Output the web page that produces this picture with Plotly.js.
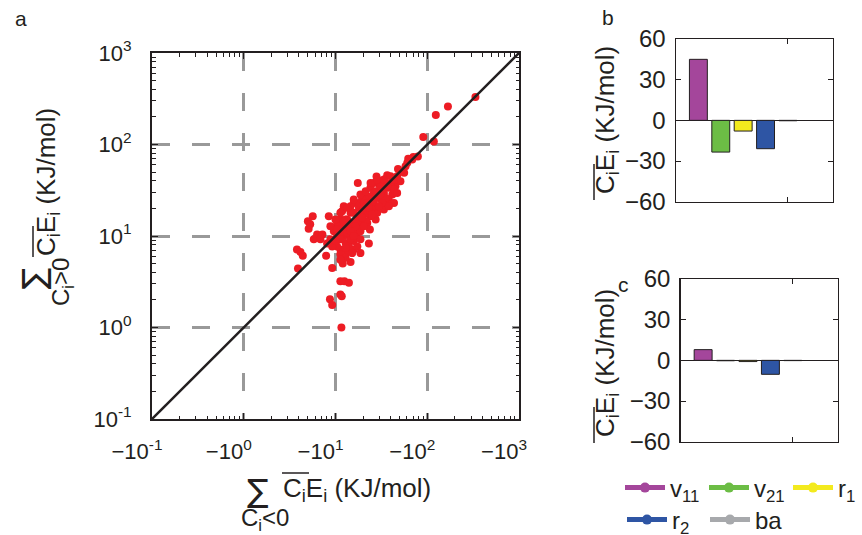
<!DOCTYPE html>
<html><head><meta charset="utf-8">
<script src="https://cdn.plot.ly/plotly-3.0.1.min.js"></script>
<style>html,body{margin:0;padding:0;background:#fff}#chart{width:862px;height:535px}</style>
</head><body><div id="chart"></div>
<script>
// ---- Panel a: sum over C_i<0 (negative, kJ/mol) vs sum over C_i>0 ----
const negSum = [-335,-168,-124,-90.5,-118,-79,-62,-70.5,-48,-56,-36.6,-28,-17.5,-43,-45,-38,-30.5,-24,-26.2,-33.7,
  -41.6,-38,-31,-22.2,-19.5,-15.8,-14.6,-12.3,-11.8,-14.6,-18,-22.2,-26.2,-31,-36.6,-28.5,-24,-20.4,-17.2,-13.4,
  -11.3,-10.4,-12.3,-15.8,-18.7,-22.2,-23.7,-17.2,-14,-11.3,-9.6,-8.8,-10.9,-12.9,-15.8,-23.1,-11.3,-13.4,-15.8,-11.3,
  -7.9,-12,-14.6,-9.2,-11.3,-12.5,-14,-11.3,-11.7,-8.7,-9.2,-11.6,-5.65,-5.0,-5.1,-5.8,-6.3,-7.2,-8.45,-8.8,
  -8.1,-3.8,-4.15,-4.4,-3.9,-5.3,-6.85,-10.4,-11.8,-13.4,-15.2,-17.3,-19.5,-22.2,-25.1,-28.5,-32.3,-26.2,-29.7,-35.2,
  -39.8,-47,-51,-58,-43.4,-47,-15.8,-18,-20.4,-24.1,-27.4,-18.7,-17.3,-14,-12.3,-10.9,-10,-18.7,-12.9,-27.4,
  -35.2,-43.4,-33.7,-21.3,-18,-14.6,-13.4,-12.9,-16.5,-18.7,-32.3,-27.4,-22.2,-20.4,-14,-16.5,-12.9,-10.4,-11.3,-15.2,
  -18.7,-31,-11.3,-13.4,-15.8,-18.7,-21.3,-24.1,-28.5,-33.7,-39.8,-51.3,-60.6,-68.7,-43.4,-36.6,-31,-26.2,-23.1,-19.5,
  -16.5,-14.6,-12.3,-10.4,-11.3,-9.2,-10,-15.8,-20.4,-25.1,-29.7,-38.2];
const posSum = [330,261,210,121,108,74,70,73,54,49,46,44.6,38,41,35,33.6,35,33.6,29.6,29.6,
  28.4,25,25.5,27.2,25.5,23,21.1,21.1,18.7,17.9,20.3,21.1,21.1,21.1,23,17.9,16.4,17.2,15.1,15.1,
  15.1,13.4,12.8,12.8,13.4,13.9,11.8,10.8,10.4,10.8,11.3,9.2,9.2,8.4,8.8,8.3,7.1,6.8,7.1,6.3,
  6.1,5.0,5.2,4.46,3.2,3.2,3.08,2.3,2.2,2.03,1.76,1.0,16.4,14.5,12,9.2,10.4,10.4,16.4,12.8,
  8.3,7.1,6.7,6.1,4.4,13.4,9.2,10.0,11.3,12.3,13.9,16.5,18.7,17.9,25,27.2,32.2,38,39.7,38,
  38,45,39.7,58,32.2,29.6,17.9,23,23,18.7,15.1,9.2,7.7,7.7,10,12.8,15.1,6.5,5.8,21.2,
  26.1,23,19.5,14.5,11.8,9.2,10.8,15.1,14.5,17.2,23,30.9,23,20.3,13.4,11.3,7.4,7.7,5.5,6.5,
  11.3,35,17.9,20.3,25,28.4,30.8,38,41.4,41.4,45,51,63,68.4,41.4,35,28.4,24,20.3,15.8,
  12.8,11.3,14.5,11.8,9.2,7.7,8.8,10,12.8,17.2,21.2,21.2];
const diagX = [0.1, 1000];
const diagY = [0.1, 1000];
const logTickVals = [0.1, 1, 10, 100, 1000];
const yTickText = ['10<sup>-1</sup>','10<sup>0</sup>','10<sup>1</sup>','10<sup>2</sup>','10<sup>3</sup>'];
const xTickText = ['\u221210<sup>-1</sup>','\u221210<sup>0</sup>','\u221210<sup>1</sup>','\u221210<sup>2</sup>','\u221210<sup>3</sup>'];

// ---- Panels b, c: contributions per mode ----
const modes = ['v<sub>11</sub>','v<sub>21</sub>','r<sub>1</sub>','r<sub>2</sub>','ba'];
const modeColors = ['#a4469b','#6cbd45','#f3ea1e','#2e55a4','#a7a9ac'];
const barPos = [1, 2, 3, 4, 5];
const valuesB = [45, -23.4, -7.9, -20.9, -0.3];
const valuesC = [7.9, -0.3, -0.9, -10.3, -0.2];
const barTicks = [-60, -30, 0, 30, 60];

const W = 862, H = 535;
const px = v => v / W, py = v => 1 - v / H;
const FONT = 'Liberation Sans, Arial, sans-serif';
const SIGMA_FONT = 'DejaVu Sans, sans-serif';
const INK = '#231f20';

const traces = [
  {x: negSum.map(Math.abs), y: posSum, type:'scatter', mode:'markers',
   marker:{color:'#ed1c24', size:8}, xaxis:'x', yaxis:'y', showlegend:false, hoverinfo:'skip'},
  {x: diagX, y: diagY, type:'scatter', mode:'lines', line:{color:INK, width:2.5},
   xaxis:'x', yaxis:'y', showlegend:false, hoverinfo:'skip'},
  {x: barPos, y: valuesB, type:'bar', width:0.8, marker:{color:modeColors, line:{color:INK, width:1}},
   xaxis:'x2', yaxis:'y2', showlegend:false},
  {x: barPos, y: valuesC, type:'bar', width:0.8, marker:{color:modeColors, line:{color:INK, width:1}},
   xaxis:'x3', yaxis:'y3', showlegend:false}
];
modes.forEach((m, i) => traces.push({
  x:[null], y:[null], type:'scatter', mode:'lines+markers', name:m,
  line:{color:modeColors[i], width:5}, marker:{color:modeColors[i], size:10},
  xaxis:'x2', yaxis:'y2', legend: i < 3 ? 'legend' : 'legend2'
}));

const logAxis = (extra) => Object.assign({
  type:'log', range:[-1,3], tickmode:'array', tickvals:logTickVals,
  ticks:'inside', ticklen:6, tickwidth:1, tickcolor:INK,
  showline:true, linecolor:INK, linewidth:2, mirror:'ticks',
  showgrid:true, gridcolor:'#999999', gridwidth:3, griddash:'18px,22px',
  zeroline:false, tickfont:{family:FONT, size:22, color:INK},
  minor:{ticks:'inside', ticklen:3.5, tickcolor:INK, dtick:'D1', showgrid:false}
}, extra);

const barY = (dom) => ({
  domain:dom, range:[-60,60], tickmode:'array', tickvals:barTicks,
  ticks:'inside', ticklen:5, tickcolor:INK, showline:true, linecolor:INK, linewidth:1.5, mirror:'ticks',
  showgrid:false, zeroline:true, zerolinecolor:INK, zerolinewidth:1.2,
  tickfont:{family:FONT, size:24, color:INK}, ticklabelstandoff:4
});
const barX = (dom, anchor) => ({
  domain:dom, anchor:anchor, range:[0,7], tickmode:'array', tickvals:[5], showticklabels:false,
  ticks:'inside', ticklen:5, tickcolor:INK, showline:true, linecolor:INK, linewidth:1.5, mirror:'ticks',
  showgrid:false, zeroline:false
});

const ann = (text, x, y, opts) => Object.assign({text, x:px(x), y:py(y), xref:'paper', yref:'paper',
  xanchor:'center', yanchor:'middle',
  showarrow:false, font:{family:FONT, size:26, color:INK}}, opts || {});
const oline = (x0, y0, x1, y1) => ({type:'line', xref:'paper', yref:'paper',
  x0:px(x0), y0:py(y0), x1:px(x1), y1:py(y1), line:{color:INK, width:1.5}});
const sigmaFont = {family:SIGMA_FONT, size:32, color:INK};
const smallFont = {family:FONT, size:24, color:INK};
const labelFont = {family:FONT, size:21, color:INK};

const yt = 'C<sub>i</sub>E<sub>i</sub> (KJ/mol)';
const legendBase = {orientation:'h', xanchor:'left', yanchor:'middle',
  font:{family:FONT, size:24, color:INK}, itemwidth:40, entrywidthmode:'pixels',
  bgcolor:'rgba(0,0,0,0)', borderwidth:0};
const layout = {
  width:W, height:H, margin:{l:0, r:0, t:0, b:0, autoexpand:false},
  paper_bgcolor:'#fff', plot_bgcolor:'#fff',
  font:{family:FONT, color:INK},
  xaxis: logAxis({domain:[px(152), px(519)], anchor:'y', ticktext:xTickText, ticklabelshift:-15, ticklabelstandoff:12}),
  yaxis: logAxis({domain:[py(419), py(53)], anchor:'x', ticktext:yTickText, ticklabelstandoff:14}),
  xaxis2: barX([px(676), px(832.7)], 'y2'),
  yaxis2: Object.assign(barY([py(201.7), py(39)]), {anchor:'x2'}),
  xaxis3: barX([px(680.7), px(837.7)], 'y3'),
  yaxis3: Object.assign(barY([py(441.7), py(279)]), {anchor:'x3'}),
  bargap:0,
  legend: Object.assign({}, legendBase, {x:px(620), y:py(488), entrywidth:29}),
  legend2: Object.assign({}, legendBase, {x:px(622), y:py(520), entrywidth:28}),
  annotations:[
    ann('a', 21, 19, {font:labelFont}), ann('b', 608, 18, {font:labelFont}), ann('c', 623, 284, {font:labelFont}),
    ann('\u2211', 33, 278.5, {textangle:-90, font:sigmaFont}),
    ann('C<sub>i</sub>&gt;0', 62, 282, {textangle:-90, font:smallFont}),
    ann(yt, 47, 182, {textangle:-90}),
    ann('\u2211', 257.5, 490.5, {font:sigmaFont}),
    ann(yt, 281, 489, {xanchor:'left'}),
    ann('C<sub>i</sub>&lt;0', 265, 519, {font:smallFont}),
    ann(yt, 606, 120, {textangle:-90}),
    ann(yt, 606, 363, {textangle:-90})
  ],
  shapes:[
    oline(33, 226, 33, 257),
    oline(282, 473, 309, 473),
    oline(594, 164, 594, 200),
    oline(594, 407, 594, 443)
  ]
};
Plotly.newPlot('chart', traces, layout, {staticPlot:true, displayModeBar:false});
</script></body></html>
